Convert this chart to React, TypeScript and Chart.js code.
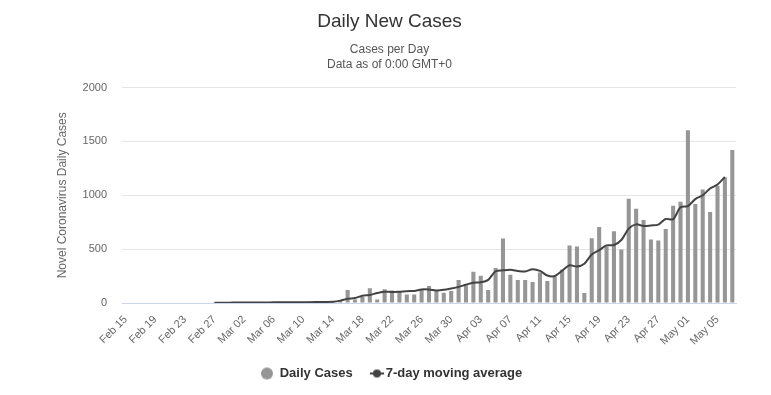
import React, { useEffect, useRef } from "react";
import { Chart, registerables } from "chart.js";

Chart.register(...registerables);

const categories = [
  "Feb 15","Feb 16","Feb 17","Feb 18","Feb 19","Feb 20","Feb 21","Feb 22","Feb 23","Feb 24","Feb 25","Feb 26","Feb 27","Feb 28","Feb 29",
  "Mar 01","Mar 02","Mar 03","Mar 04","Mar 05","Mar 06","Mar 07","Mar 08","Mar 09","Mar 10","Mar 11","Mar 12","Mar 13","Mar 14","Mar 15",
  "Mar 16","Mar 17","Mar 18","Mar 19","Mar 20","Mar 21","Mar 22","Mar 23","Mar 24","Mar 25","Mar 26","Mar 27","Mar 28","Mar 29","Mar 30","Mar 31",
  "Apr 01","Apr 02","Apr 03","Apr 04","Apr 05","Apr 06","Apr 07","Apr 08","Apr 09","Apr 10","Apr 11","Apr 12","Apr 13","Apr 14","Apr 15",
  "Apr 16","Apr 17","Apr 18","Apr 19","Apr 20","Apr 21","Apr 22","Apr 23","Apr 24","Apr 25","Apr 26","Apr 27","Apr 28","Apr 29","Apr 30",
  "May 01","May 02","May 03","May 04","May 05","May 06","May 07",
];

const dailyCases = [
  null, null, null, null, null, null, null, null, null, null, null, null,
  3, 8, 2, 4, 3, 9, 2, 8, 5, 6, 10, 8, 9, 14, 10, 12, 15, 22,
  120, 32, 55, 136, 32, 127, 117, 101, 79, 80, 122, 157, 117, 95, 111, 214,
  165, 290, 252, 120, 325, 600, 262, 214, 214, 196, 284, 205, 245, 310, 535,
  525, 92, 602, 705, 525, 667, 497, 968, 875, 770, 590, 580, 686, 903, 940,
  1605, 920, 1053, 846, 1088, 1165, 1420,
];

const movingAverage = [
  null, null, null, null, null, null, null, null, null, null, null, null,
  2, 3, 3, 4, 4, 5, 5, 5, 6, 6, 6, 7, 7, 8, 9, 10, 12, 22,
  40, 46, 68, 75, 92, 105, 102, 105, 110, 112, 126, 125, 117, 122, 135, 150,
  170, 188, 192, 215, 295, 303, 308, 298, 292, 314, 298, 255, 250, 300, 350,
  338, 365, 450, 490, 535, 538, 585, 690, 730, 715, 720, 728, 780, 778, 888,
  900, 965, 1000, 1063, 1100, 1170, null,
];

const yTicks = [0, 500, 1000, 1500, 2000];

const BAR_COLOR = "#969696";
const LINE_COLOR = "#434343";

// legend icons: canvas centered on the legend box centre; icon offset to the right
function makeCircleIcon() {
  const off = 2;
  const c = document.createElement("canvas");
  c.width = 2 * (off + 7);
  c.height = 14;
  const ctx = c.getContext("2d")!;
  ctx.fillStyle = BAR_COLOR;
  ctx.beginPath();
  ctx.arc(c.width / 2 + off, 7, 6, 0, Math.PI * 2);
  ctx.fill();
  return c;
}

function makeLineIcon() {
  const off = 6;
  const c = document.createElement("canvas");
  c.width = 2 * (off + 8);
  c.height = 12;
  const ctx = c.getContext("2d")!;
  const cx = c.width / 2 + off;
  ctx.strokeStyle = LINE_COLOR;
  ctx.lineWidth = 2;
  ctx.beginPath();
  ctx.moveTo(cx - 7, 6);
  ctx.lineTo(cx + 7, 6);
  ctx.stroke();
  ctx.fillStyle = LINE_COLOR;
  ctx.beginPath();
  ctx.arc(cx, 6, 4, 0, Math.PI * 2);
  ctx.fill();
  return c;
}

export default function App() {
  const ref = useRef<HTMLCanvasElement | null>(null);

  useEffect(() => {
    if (!ref.current) return;
    Chart.defaults.font.family = '"Liberation Sans", Arial, sans-serif';
    const circleIcon = makeCircleIcon();
    const lineIcon = makeLineIcon();

    const chart = new Chart(ref.current, {
      type: "bar",
      data: {
        labels: categories,
        datasets: [
          {
            type: "bar",
            label: "Daily Cases",
            data: dailyCases,
            backgroundColor: BAR_COLOR,
            borderWidth: 0,
            barPercentage: 0.55,
            categoryPercentage: 1,
            order: 1,
          } as any,
          {
            type: "line",
            label: "7-day moving average",
            data: movingAverage,
            borderColor: LINE_COLOR,
            backgroundColor: LINE_COLOR,
            borderWidth: 2,
            pointRadius: 0,
            tension: 0.3,
            spanGaps: false,
            order: 0,
          } as any,
        ],
      },
      options: {
        animation: false,
        responsive: true,
        maintainAspectRatio: false,
        layout: { padding: { left: 8, right: 0, top: 0, bottom: 5 } },
        plugins: {
          title: {
            display: true,
            text: "Daily New Cases",
            color: "#333333",
            font: { size: 19, weight: "normal" },
            padding: { top: 10, bottom: 9 },
          },
          subtitle: {
            display: true,
            text: ["Cases per Day", "Data as of 0:00 GMT+0"],
            color: "#555555",
            font: { size: 12 },
            padding: { top: 1, bottom: 16 },
          },
          legend: {
            position: "bottom",
            labels: {
              usePointStyle: true,
              pointStyleWidth: 16.5,
              color: "#333333",
              font: { size: 13, weight: "bold" },
              padding: 10,
              generateLabels: (ch: any) =>
                ch.data.datasets.map((ds: any, i: number) => ({
                  text: ds.label,
                  fillStyle: i === 0 ? BAR_COLOR : LINE_COLOR,
                  strokeStyle: i === 0 ? BAR_COLOR : LINE_COLOR,
                  lineWidth: 0,
                  pointStyle: i === 0 ? circleIcon : lineIcon,
                  datasetIndex: i,
                  hidden: false,
                  fontColor: "#333333",
                })),
            },
          },
          tooltip: { enabled: false },
        },
        scales: {
          x: {
            grid: { display: false },
            border: { display: true, color: "#ccd6eb" },
            ticks: {
              autoSkip: false,
              maxRotation: 45,
              minRotation: 45,
              color: "#666666",
              font: { size: 11 },
              padding: 2,
              callback: (_v: any, i: number) => (i % 4 === 0 ? categories[i] : ""),
            },
            afterFit: (s: any) => {
              s.height = 54;
            },
          },
          y: {
            min: 0,
            max: 2000,
            afterBuildTicks: (s: any) => {
              s.ticks = yTicks.map((v) => ({ value: v }));
            },
            grid: { color: "#e6e6e6", drawTicks: false },
            border: { display: false },
            ticks: {
              color: "#666666",
              font: { size: 11 },
              padding: 15,
              callback: (v: any) => String(v),
            },
            title: {
              display: true,
              text: "Novel Coronavirus Daily Cases",
              color: "#666666",
              font: { size: 12 },
              padding: { top: 47, bottom: 0 },
            },
            afterFit: (s: any) => {
              s.width = 114;
            },
          },
          yRight: {
            position: "right",
            display: true,
            grid: { display: false, drawTicks: false },
            border: { display: false },
            ticks: { display: false },
            afterFit: (s: any) => {
              s.width = 35;
            },
          },
        },
      },
    });
    return () => chart.destroy();
  }, []);

  return (
    <div style={{ position: "fixed", left: 0, top: 0, width: 771, height: 395, background: "#fff" }}>
      <canvas ref={ref} />
    </div>
  );
}
